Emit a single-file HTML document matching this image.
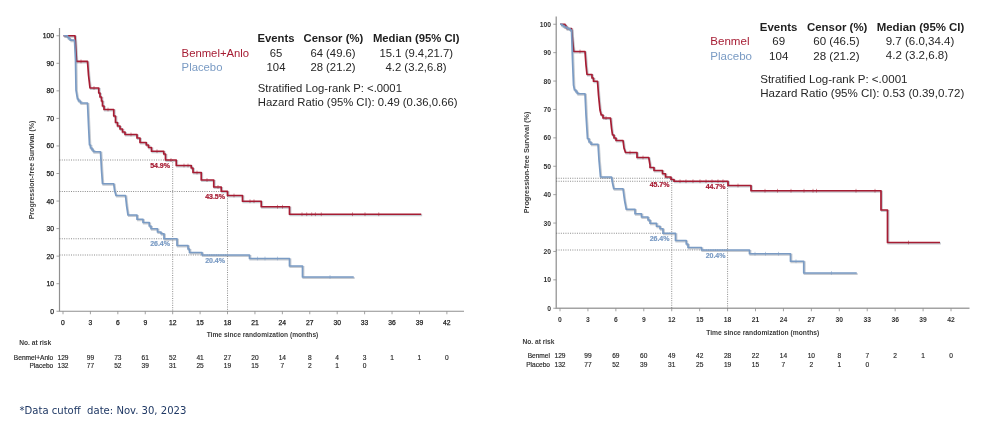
<!DOCTYPE html>
<html lang="en">
<head>
<meta charset="utf-8">
<title>Progression-free survival</title>
<style>
html,body{margin:0;padding:0;background:#fff;}
body{width:984px;height:422px;overflow:hidden;}
svg{display:block;}
text{font-family:"Liberation Sans",Arial,Helvetica,sans-serif;fill:#262626;}
.tk text{font-size:6.75px;fill:#1c1c1c;stroke:#1c1c1c;stroke-width:0.25px;}
.tb text{font-size:6.75px;font-weight:bold;fill:#333;stroke:none;}
.at{font-size:6.65px;font-weight:bold;fill:#3c3c3c;}
.pc{font-size:7px;font-weight:bold;stroke-width:0.2px;}
text.cr.pc{stroke:#a61c33;}
text.cb.pc{stroke:#7a9bc4;}
.hb text{font-size:11.3px;font-weight:bold;fill:#1e1e1e;}
.hr,.hr text{font-size:11.3px;}
.rk,.rk text{font-size:6.6px;stroke:#262626;stroke-width:0.15px;}
text.cr{fill:#a61c33;}
text.cb{fill:#7a9bc4;}
.R .hb text{font-size:11.45px;}
.R .hr,.R .hr text{font-size:11.55px;}
.L .yt{font-size:7.05px;}
.R .yt{font-size:7.28px;}
.R .xt{font-size:6.73px;}
.ft{white-space:pre;font-family:"DejaVu Sans Condensed","DejaVu Sans","Liberation Sans",sans-serif;font-size:11.2px;fill:#1f3864;}
</style>
</head>
<body>
<svg width="984" height="422" viewBox="0 0 984 422">
<defs><filter id="blur" x="-5%" y="-5%" width="110%" height="110%"><feGaussianBlur stdDeviation="0.7"/></filter></defs>
<rect width="984" height="422" fill="#ffffff"/>
<g id="left" class="L">
<path d="M59.5,28V311.25H464" fill="none" stroke="#909090" stroke-width="1.2"/>
<path d="M59.5,311.25h-3M59.5,283.7h-3M59.5,256.15h-3M59.5,228.6h-3M59.5,201.05h-3M59.5,173.5h-3M59.5,145.95h-3M59.5,118.4h-3M59.5,90.85h-3M59.5,63.3h-3M59.5,35.75h-3M63,311.25v3M90.42,311.25v3M117.84,311.25v3M145.26,311.25v3M172.68,311.25v3M200.1,311.25v3M227.52,311.25v3M254.94,311.25v3M282.36,311.25v3M309.78,311.25v3M337.2,311.25v3M364.62,311.25v3M392.04,311.25v3M419.46,311.25v3M446.88,311.25v3" fill="none" stroke="#8c8c8c" stroke-width="0.8"/>
<g class="tk" text-anchor="end">
<text x="54" y="313.7">0</text>
<text x="54" y="286.15">10</text>
<text x="54" y="258.6">20</text>
<text x="54" y="231.05">30</text>
<text x="54" y="203.5">40</text>
<text x="54" y="175.95">50</text>
<text x="54" y="148.4">60</text>
<text x="54" y="120.85">70</text>
<text x="54" y="93.3">80</text>
<text x="54" y="65.75">90</text>
<text x="54" y="38.2">100</text>
</g>
<g class="tk" text-anchor="middle">
<text x="63" y="324.5">0</text>
<text x="90.42" y="324.5">3</text>
<text x="117.84" y="324.5">6</text>
<text x="145.26" y="324.5">9</text>
<text x="172.68" y="324.5">12</text>
<text x="200.1" y="324.5">15</text>
<text x="227.52" y="324.5">18</text>
<text x="254.94" y="324.5">21</text>
<text x="282.36" y="324.5">24</text>
<text x="309.78" y="324.5">27</text>
<text x="337.2" y="324.5">30</text>
<text x="364.62" y="324.5">33</text>
<text x="392.04" y="324.5">36</text>
<text x="419.46" y="324.5">39</text>
<text x="446.88" y="324.5">42</text>
</g>
<text class="at xt" text-anchor="middle" x="262.5" y="336.6">Time since randomization (months)</text>
<text class="at yt" text-anchor="middle" transform="translate(33.6,170) rotate(-90)">Progression-free Survival (%)</text>
<path d="M59.5,160H172.68M59.5,238.75H172.68M172.68,160V311.25M59.5,191.5H227.52M59.5,255H227.52M227.52,191.5V311.25" fill="none" stroke="#5a5a5a" stroke-width="0.7" stroke-dasharray="1 1.3"/>
<path d="M63.5,35.75 H75 L76.5,61.4 H87.5 L88.5,75 L90,88 H98.75 V93 H100 V97 H101.5 V101 H102.5 V106 H104 V109.5 H113.75 V116 H115.5 V122.5 H117.5 V126 H120 V129 H122.5 V132 H125 V134.5 H137 V138 H140 V142.5 H146.25 V145 H148.5 V147.5 H151.5 V151.25 H163.75 V154 H165.5 V160 H176.25 V165.5 H191.25 V168 H193 V172.5 H201.25 V180 H213.75 V187 H221.25 V191.25 H227.5 V195.5 H242.5 V201.25 H261.25 V206.75 H289.5 V214.25 H421.25" fill="none" stroke="#5f6b7a" stroke-opacity="0.35" stroke-width="2" transform="translate(0.9,1.1)" filter="url(#blur)"/><path d="M63.5,35.75 H75 L76.5,61.4 H87.5 L88.5,75 L90,88 H98.75 V93 H100 V97 H101.5 V101 H102.5 V106 H104 V109.5 H113.75 V116 H115.5 V122.5 H117.5 V126 H120 V129 H122.5 V132 H125 V134.5 H137 V138 H140 V142.5 H146.25 V145 H148.5 V147.5 H151.5 V151.25 H163.75 V154 H165.5 V160 H176.25 V165.5 H191.25 V168 H193 V172.5 H201.25 V180 H213.75 V187 H221.25 V191.25 H227.5 V195.5 H242.5 V201.25 H261.25 V206.75 H289.5 V214.25 H421.25" fill="none" stroke="#a61c33" stroke-width="1.7" stroke-linejoin="round"/>
<path d="M81,59.5v3.8M94,86.1v3.8M108,107.6v3.8M131,132.6v3.8M157,149.35v3.8M171,158.1v3.8M184,163.6v3.8M188,163.6v3.8M197,170.6v3.8M207,178.1v3.8M218,185.1v3.8M234,193.6v3.8M250,199.35v3.8M254,199.35v3.8M277.5,204.85v3.8M282.5,204.85v3.8M302,212.35v3.8M306.7,212.35v3.8M311.7,212.35v3.8M315.4,212.35v3.8M321.3,212.35v3.8M352.5,212.35v3.8M365,212.35v3.8M378.75,212.35v3.8" stroke="#a61c33" stroke-width="0.7" fill="none" opacity="0.7"/>
<path d="M63.5,35.75 H67.5 V37.5 H69 V39 H70.5 V40.2 H74.5 L75.5,60 L76,90 L77.5,99 H78.5 V101 H80.5 V103 H87.5 L88.5,125 L89.5,145 H90.5 V148 H92 V150 H93.5 V151.75 H100.5 L101.5,170 L102.5,183.75 H113.75 L114.5,190 L116,195.5 H125.5 L126.5,205 L128,215 H137 V219.25 H143 V222.5 H149.25 V226 H151 V228.75 H157.5 V232 H161 V233.75 H164 V238.75 H177 V245.5 H188 V249 H189.5 V252.5 H202 V255 H249.5 V258.5 H289.5 V266 H302.5 V277 H353.75" fill="none" stroke="#5f6b7a" stroke-opacity="0.35" stroke-width="2" transform="translate(0.9,1.1)" filter="url(#blur)"/><path d="M63.5,35.75 H67.5 V37.5 H69 V39 H70.5 V40.2 H74.5 L75.5,60 L76,90 L77.5,99 H78.5 V101 H80.5 V103 H87.5 L88.5,125 L89.5,145 H90.5 V148 H92 V150 H93.5 V151.75 H100.5 L101.5,170 L102.5,183.75 H113.75 L114.5,190 L116,195.5 H125.5 L126.5,205 L128,215 H137 V219.25 H143 V222.5 H149.25 V226 H151 V228.75 H157.5 V232 H161 V233.75 H164 V238.75 H177 V245.5 H188 V249 H189.5 V252.5 H202 V255 H249.5 V258.5 H289.5 V266 H302.5 V277 H353.75" fill="none" stroke="#7a9bc4" stroke-width="1.7" stroke-linejoin="round"/>
<path d="M257.5,256.6v3.8M265,256.6v3.8M277.5,256.6v3.8M330,275.1v3.8" stroke="#7a9bc4" stroke-width="0.7" fill="none" opacity="0.7"/>
<text class="pc cr" text-anchor="end" x="170" y="168">54.9%</text>
<text class="pc cr" text-anchor="end" x="225" y="198.5">43.5%</text>
<text class="pc cb" text-anchor="end" x="170" y="246.3">26.4%</text>
<text class="pc cb" text-anchor="end" x="225" y="263">20.4%</text>
<g class="hb" text-anchor="middle">
<text x="276" y="42.1">Events</text>
<text x="333.4" y="42.1">Censor (%)</text>
<text x="416.2" y="42.1">Median (95% CI)</text>
</g>
<text class="hr cr" x="181.6" y="56.5">Benmel+Anlo</text>
<g class="hr" text-anchor="middle">
<text x="276" y="56.5">65</text>
<text x="333" y="56.5">64 (49.6)</text>
<text x="416.3" y="56.5">15.1 (9.4,21.7)</text>
</g>
<text class="hr cb" x="181.6" y="70.5">Placebo</text>
<g class="hr" text-anchor="middle">
<text x="276" y="70.5">104</text>
<text x="333" y="70.5">28 (21.2)</text>
<text x="416" y="70.5">4.2 (3.2,6.8)</text>
</g>
<text class="hr" x="257.8" y="92.2">Stratified Log-rank P: &lt;.0001</text>
<text class="hr" x="257.8" y="106.4">Hazard Ratio (95% CI): 0.49 (0.36,0.66)</text>
<text class="at" text-anchor="end" x="51.25" y="345.4">No. at risk</text>
<text class="rk" text-anchor="end" x="53.25" y="359.9">Benmel+Anlo</text>
<g class="rk" text-anchor="middle">
<text x="63" y="359.9">129</text>
<text x="90.42" y="359.9">99</text>
<text x="117.84" y="359.9">73</text>
<text x="145.26" y="359.9">61</text>
<text x="172.68" y="359.9">52</text>
<text x="200.1" y="359.9">41</text>
<text x="227.52" y="359.9">27</text>
<text x="254.94" y="359.9">20</text>
<text x="282.36" y="359.9">14</text>
<text x="309.78" y="359.9">8</text>
<text x="337.2" y="359.9">4</text>
<text x="364.62" y="359.9">3</text>
<text x="392.04" y="359.9">1</text>
<text x="419.46" y="359.9">1</text>
<text x="446.88" y="359.9">0</text>
</g>
<text class="rk" text-anchor="end" x="53.25" y="367.9">Placebo</text>
<g class="rk" text-anchor="middle">
<text x="63" y="367.9">132</text>
<text x="90.42" y="367.9">77</text>
<text x="117.84" y="367.9">52</text>
<text x="145.26" y="367.9">39</text>
<text x="172.68" y="367.9">31</text>
<text x="200.1" y="367.9">25</text>
<text x="227.52" y="367.9">19</text>
<text x="254.94" y="367.9">15</text>
<text x="282.36" y="367.9">7</text>
<text x="309.78" y="367.9">2</text>
<text x="337.2" y="367.9">1</text>
<text x="364.62" y="367.9">0</text>
</g>
</g>
<g id="right" class="R">
<path d="M556.25,16.5V308.25H969.5" fill="none" stroke="#a3a3a3" stroke-width="1.5"/>
<path d="M556.25,308.25h-3M556.25,279.85h-3M556.25,251.45h-3M556.25,223.05h-3M556.25,194.65h-3M556.25,166.25h-3M556.25,137.85h-3M556.25,109.45h-3M556.25,81.05h-3M556.25,52.65h-3M556.25,24.25h-3M560,308.25v3M587.93,308.25v3M615.86,308.25v3M643.79,308.25v3M671.72,308.25v3M699.65,308.25v3M727.58,308.25v3M755.51,308.25v3M783.44,308.25v3M811.37,308.25v3M839.3,308.25v3M867.23,308.25v3M895.16,308.25v3M923.09,308.25v3M951.02,308.25v3" fill="none" stroke="#8c8c8c" stroke-width="0.8"/>
<g class="tk tb" text-anchor="end">
<text x="551" y="310.7">0</text>
<text x="551" y="282.3">10</text>
<text x="551" y="253.9">20</text>
<text x="551" y="225.5">30</text>
<text x="551" y="197.1">40</text>
<text x="551" y="168.7">50</text>
<text x="551" y="140.3">60</text>
<text x="551" y="111.9">70</text>
<text x="551" y="83.5">80</text>
<text x="551" y="55.1">90</text>
<text x="551" y="26.7">100</text>
</g>
<g class="tk tb" text-anchor="middle">
<text x="560" y="322">0</text>
<text x="587.93" y="322">3</text>
<text x="615.86" y="322">6</text>
<text x="643.79" y="322">9</text>
<text x="671.72" y="322">12</text>
<text x="699.65" y="322">15</text>
<text x="727.58" y="322">18</text>
<text x="755.51" y="322">21</text>
<text x="783.44" y="322">24</text>
<text x="811.37" y="322">27</text>
<text x="839.3" y="322">30</text>
<text x="867.23" y="322">33</text>
<text x="895.16" y="322">36</text>
<text x="923.09" y="322">39</text>
<text x="951.02" y="322">42</text>
</g>
<text class="at xt" text-anchor="middle" x="762.75" y="335">Time since randomization (months)</text>
<text class="at yt" text-anchor="middle" transform="translate(529.2,162.4) rotate(-90)">Progression-free Survival (%)</text>
<path d="M556.25,178.25H671.72M556.25,233.25H671.72M671.72,178.25V308.25M556.25,181.25H727.58M556.25,250H727.58M727.58,181.25V308.25" fill="none" stroke="#5a5a5a" stroke-width="0.7" stroke-dasharray="1 1.3"/>
<path d="M560,24.25 H565 V26 H566.5 V28.5 H571.5 L572.5,40 L573.75,51.5 H585 L586,65 L587,74.5 H592 V78 H593.5 V81.25 H597.5 L598.5,95 L600,110 L601.25,115 H603 V118 H610.5 L611.5,128 L612.5,135 H614 V138 H616 V140.5 H623 L624,148 L625.5,152.5 H637 V157.5 H648.75 L650,165 V167.5 H654 V170.5 H662.5 V173.75 H665.5 V177 H671 V179.5 H674 V181.25 H728 V185.5 H751 V190.75 H881 V210 H887.5 V242.5 H940" fill="none" stroke="#5f6b7a" stroke-opacity="0.35" stroke-width="2" transform="translate(0.9,1.1)" filter="url(#blur)"/><path d="M560,24.25 H565 V26 H566.5 V28.5 H571.5 L572.5,40 L573.75,51.5 H585 L586,65 L587,74.5 H592 V78 H593.5 V81.25 H597.5 L598.5,95 L600,110 L601.25,115 H603 V118 H610.5 L611.5,128 L612.5,135 H614 V138 H616 V140.5 H623 L624,148 L625.5,152.5 H637 V157.5 H648.75 L650,165 V167.5 H654 V170.5 H662.5 V173.75 H665.5 V177 H671 V179.5 H674 V181.25 H728 V185.5 H751 V190.75 H881 V210 H887.5 V242.5 H940" fill="none" stroke="#a61c33" stroke-width="1.7" stroke-linejoin="round"/>
<path d="M580,49.6v3.8M606,116.1v3.8M630,150.6v3.8M643,155.6v3.8M680,179.35v3.8M686,179.35v3.8M693,179.35v3.8M700,179.35v3.8M706,179.35v3.8M712,179.35v3.8M718,179.35v3.8M723,179.35v3.8M738,183.6v3.8M765,188.85v3.8M777.5,188.85v3.8M791,188.85v3.8M804,188.85v3.8M813,188.85v3.8M816.5,188.85v3.8M856,188.85v3.8M875,188.85v3.8M908.5,240.6v3.8" stroke="#a61c33" stroke-width="0.7" fill="none" opacity="0.7"/>
<path d="M560,24.25 H562 V25.5 H564 V27 H567 V28.5 H570 V30 H571.5 L572.5,60 L573.5,85 L574.5,90 H576 V92 H577.5 V93.75 H585 L586,115 L587.5,138.75 H589 V142 H591 V144.25 H598 L599,160 L600.5,177 H611.5 L612.5,183 L613.75,188.75 H623 L624.5,200 L626.25,209.25 H635 V213.75 H641.5 V217 H648 V220 H650 V223.25 H656.5 V226.25 H660 V228.75 H663 V233.25 H675.5 V240.5 H686.25 V244 H688 V247.5 H701.5 V250 H749.5 V253.75 H790.5 V261.25 H803.75 V273 H856.75" fill="none" stroke="#5f6b7a" stroke-opacity="0.35" stroke-width="2" transform="translate(0.9,1.1)" filter="url(#blur)"/><path d="M560,24.25 H562 V25.5 H564 V27 H567 V28.5 H570 V30 H571.5 L572.5,60 L573.5,85 L574.5,90 H576 V92 H577.5 V93.75 H585 L586,115 L587.5,138.75 H589 V142 H591 V144.25 H598 L599,160 L600.5,177 H611.5 L612.5,183 L613.75,188.75 H623 L624.5,200 L626.25,209.25 H635 V213.75 H641.5 V217 H648 V220 H650 V223.25 H656.5 V226.25 H660 V228.75 H663 V233.25 H675.5 V240.5 H686.25 V244 H688 V247.5 H701.5 V250 H749.5 V253.75 H790.5 V261.25 H803.75 V273 H856.75" fill="none" stroke="#7a9bc4" stroke-width="1.7" stroke-linejoin="round"/>
<path d="M755,251.85v3.8M765.5,251.85v3.8M778.5,251.85v3.8M796,259.35v3.8M831.5,271.1v3.8" stroke="#7a9bc4" stroke-width="0.7" fill="none" opacity="0.7"/>
<text class="pc cr" text-anchor="end" x="669.5" y="186.7">45.7%</text>
<text class="pc cr" text-anchor="end" x="725.5" y="188.7">44.7%</text>
<text class="pc cb" text-anchor="end" x="669.5" y="241.2">26.4%</text>
<text class="pc cb" text-anchor="end" x="725.5" y="258">20.4%</text>
<g class="hb" text-anchor="middle">
<text x="778.6" y="31.2">Events</text>
<text x="837.2" y="31.2">Censor (%)</text>
<text x="920.5" y="31.2">Median (95% CI)</text>
</g>
<text class="hr cr" x="710.3" y="45.3">Benmel</text>
<g class="hr" text-anchor="middle">
<text x="778.7" y="45.3">69</text>
<text x="836.4" y="45.3">60 (46.5)</text>
<text x="920" y="45.3">9.7 (6.0,34.4)</text>
</g>
<text class="hr cb" x="710.3" y="60">Placebo</text>
<g class="hr" text-anchor="middle">
<text x="778.7" y="60">104</text>
<text x="836.4" y="60">28 (21.2)</text>
<text x="917" y="59.1">4.2 (3.2,6.8)</text>
</g>
<text class="hr" x="760.2" y="82.9">Stratified Log-rank P: &lt;.0001</text>
<text class="hr" x="760.2" y="97.2">Hazard Ratio (95% CI): 0.53 (0.39,0.72)</text>
<text class="at" text-anchor="end" x="554.5" y="343.5">No. at risk</text>
<text class="rk" text-anchor="end" x="550" y="358.3">Benmel</text>
<g class="rk" text-anchor="middle">
<text x="560" y="358.3">129</text>
<text x="587.93" y="358.3">99</text>
<text x="615.86" y="358.3">69</text>
<text x="643.79" y="358.3">60</text>
<text x="671.72" y="358.3">49</text>
<text x="699.65" y="358.3">42</text>
<text x="727.58" y="358.3">28</text>
<text x="755.51" y="358.3">22</text>
<text x="783.44" y="358.3">14</text>
<text x="811.37" y="358.3">10</text>
<text x="839.3" y="358.3">8</text>
<text x="867.23" y="358.3">7</text>
<text x="895.16" y="358.3">2</text>
<text x="923.09" y="358.3">1</text>
<text x="951.02" y="358.3">0</text>
</g>
<text class="rk" text-anchor="end" x="550" y="366.6">Placebo</text>
<g class="rk" text-anchor="middle">
<text x="560" y="366.6">132</text>
<text x="587.93" y="366.6">77</text>
<text x="615.86" y="366.6">52</text>
<text x="643.79" y="366.6">39</text>
<text x="671.72" y="366.6">31</text>
<text x="699.65" y="366.6">25</text>
<text x="727.58" y="366.6">19</text>
<text x="755.51" y="366.6">15</text>
<text x="783.44" y="366.6">7</text>
<text x="811.37" y="366.6">2</text>
<text x="839.3" y="366.6">1</text>
<text x="867.23" y="366.6">0</text>
</g>
</g>
<text class="ft" x="19.5" y="414.2">*Data cutoff  date: Nov. 30, 2023</text>
</svg>
</body>
</html>
